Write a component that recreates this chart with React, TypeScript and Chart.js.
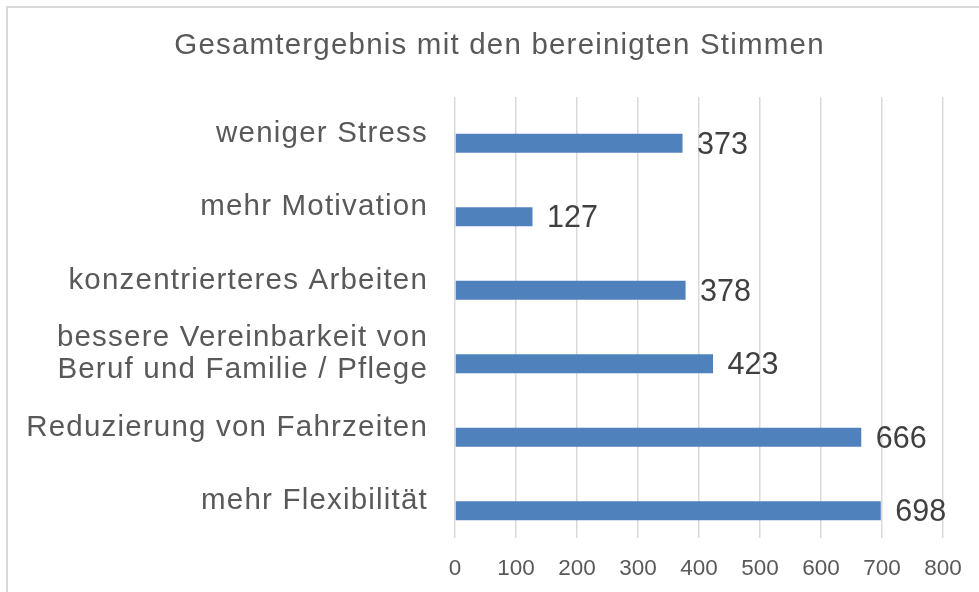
import React, { useEffect, useRef } from 'react';
import { Chart, registerables } from 'chart.js';

Chart.register(...registerables);

const FONT = "'Liberation Sans', Arial, Helvetica, sans-serif";

const TITLE = 'Gesamtergebnis mit den bereinigten Stimmen';
const categories: string[][] = [
  ['weniger Stress'],
  ['mehr Motivation'],
  ['konzentrierteres Arbeiten'],
  ['bessere Vereinbarkeit von', 'Beruf und Familie / Pflege'],
  ['Reduzierung von Fahrzeiten'],
  ['mehr Flexibilität'],
];
const votes = [373, 127, 378, 423, 666, 698];
const X_MIN = 0;
const X_MAX = 800;
const X_STEP = 100;

const framePlugin = {
  id: 'frameAndLabels',
  beforeDraw(chart: any) {
    const ctx = chart.ctx as CanvasRenderingContext2D;
    ctx.save();
    ctx.fillStyle = '#ffffff';
    ctx.fillRect(0, 0, chart.width, chart.height);
    ctx.fillStyle = '#d9d9d9';
    ctx.fillRect(6, 6, 2, chart.height - 6);
    ctx.fillRect(6, 6, chart.width - 6, 2);
    ctx.restore();
    (ctx as any).letterSpacing = '1.2px';
  },
  afterDatasetsDraw(chart: any) {
    const ctx = chart.ctx as CanvasRenderingContext2D;
    (ctx as any).letterSpacing = '0px';
    const meta = chart.getDatasetMeta(1);
    ctx.save();
    ctx.font = `30.5px ${FONT}`;
    ctx.fillStyle = '#404040';
    ctx.textAlign = 'left';
    ctx.textBaseline = 'middle';
    meta.data.forEach((bar: any, i: number) => {
      ctx.fillText(String(votes[i]), bar.x + 14.5, bar.y + 2.3);
    });
    ctx.restore();
  },
  afterDraw(chart: any) {
    (chart.ctx as any).letterSpacing = '0px';
  },
};

export default function App() {
  const ref = useRef<HTMLCanvasElement | null>(null);

  useEffect(() => {
    if (!ref.current) return;
    const chart = new Chart(ref.current, {
      type: 'bar',
      data: {
        labels: categories,
        datasets: [
          {
            label: '',
            data: votes.map(() => null),
            backgroundColor: '#4f81bd',
            categoryPercentage: 0.517,
            barPercentage: 1,
          },
          {
            label: 'Stimmen',
            data: votes,
            backgroundColor: '#4f81bd',
            borderWidth: 0,
            categoryPercentage: 0.517,
            barPercentage: 1,
          },
        ],
      },
      options: {
        indexAxis: 'y',
        responsive: false,
        animation: false,
        layout: { padding: { left: 20, right: 0, top: 0, bottom: 0 } },
        plugins: {
          legend: { display: false },
          tooltip: { enabled: false },
          title: {
            display: true,
            text: TITLE,
            color: '#595959',
            font: { family: FONT, size: 29.5, weight: 'normal', lineHeight: 1.2 },
            padding: { top: 28.2, bottom: 33.4 },
          },
        },
        scales: {
          x: {
            type: 'linear',
            min: X_MIN,
            max: X_MAX,
            afterFit(scale: any) {
              scale.height = 54;
            },
            ticks: {
              stepSize: X_STEP,
              color: '#595959',
              font: { family: FONT, size: 22.5 },
              padding: 17,
              z: 1,
              maxRotation: 0,
            },
            grid: { color: '#d9d9d9', lineWidth: 1.5, drawTicks: false },
            border: { display: false },
          },
          y: {
            type: 'category',
            afterFit(scale: any) {
              scale.width = 435;
            },
            ticks: {
              color: '#595959',
              font: { family: FONT, size: 29.5, lineHeight: 1.09 },
              padding: 27,
              autoSkip: false,
            },
            grid: { display: false, drawTicks: false },
            border: { display: false },
          },
          yRight: {
            type: 'category',
            position: 'right',
            afterFit(scale: any) {
              scale.width = 36;
            },
            ticks: { display: false },
            grid: { display: false, drawTicks: false },
            border: { display: false },
          },
        },
      },
      plugins: [framePlugin],
    } as any);
    return () => chart.destroy();
  }, []);

  return (
    <div style={{ position: 'absolute', left: 0, top: 0, width: 979, height: 592, background: '#fff' }}>
      <canvas ref={ref} width={979} height={592} style={{ display: 'block' }} />
    </div>
  );
}
